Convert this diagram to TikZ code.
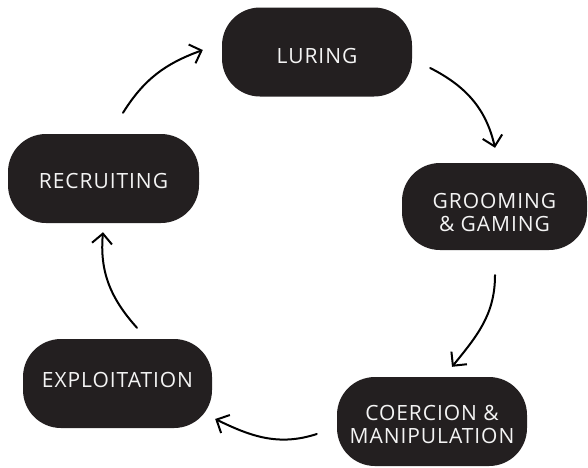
\documentclass[tikz,border=0pt]{standalone}
\usepackage{fontspec}
\setmainfont[LetterSpace=4.5]{Open Sans}
\usepackage{tikz}
\usetikzlibrary{arrows.meta}

\definecolor{boxdark}{HTML}{231F20}
\definecolor{boxtext}{HTML}{F4F4F4}

\begin{document}
\begin{tikzpicture}[x=1pt,y=-1pt,
  stage/.style={fill=boxdark,rounded corners=38pt,minimum width=190pt,minimum height=89pt,
    text=boxtext,align=center,font=\fontsize{21}{23}\selectfont,inner sep=0pt},
  flow/.style={line width=2pt,line cap=round,-{Straight Barb[length=10pt,width=20pt]}}]
\useasboundingbox (0,0) rectangle (588,467);

% Stages
\node[stage,text height=22pt,text depth=0pt] (luring) at (317,52) {LURING};
\node[stage,minimum width=185pt,minimum height=87pt,text height=50pt,text depth=0pt] (groom) at (494.5,206.5) {GROOMING\\\& GAMING};
\node[stage,text height=43pt,text depth=0pt] (coerce) at (432,421.5) {COERCION \&\\MANIPULATION};
\node[stage,minimum width=189pt,text height=15pt,text depth=8pt] (exploit) at (117.5,383.5) {EXPLOITATION};
\node[stage,minimum width=191pt,text height=19pt,text depth=0pt] (recruit) at (103.5,178.5) {RECRUITING};

% Cycle
\draw[flow] ([shift={(19.5,-21)}]recruit.north) to[out=58,in=200] ([shift={(-19,-2)}]luring.west);
\draw[flow] ([shift={(18,16)}]luring.east) to[out=-27,in=103] ([shift={(0.5,-15)}]groom.north);
\draw[flow] ([shift={(0.5,25)}]groom.south) to[out=-90,in=51] ([shift={(20,-10)}]coerce.north);
\draw[flow] ([shift={(-20,12.5)}]coerce.west) to[out=198,in=-26] ([shift={(3,35.5)}]exploit.east);
\draw[flow] ([shift={(19.5,-11)}]exploit.north) to[out=132,in=-95] ([shift={(-0.5,9)}]recruit.south);
\end{tikzpicture}
\end{document}
